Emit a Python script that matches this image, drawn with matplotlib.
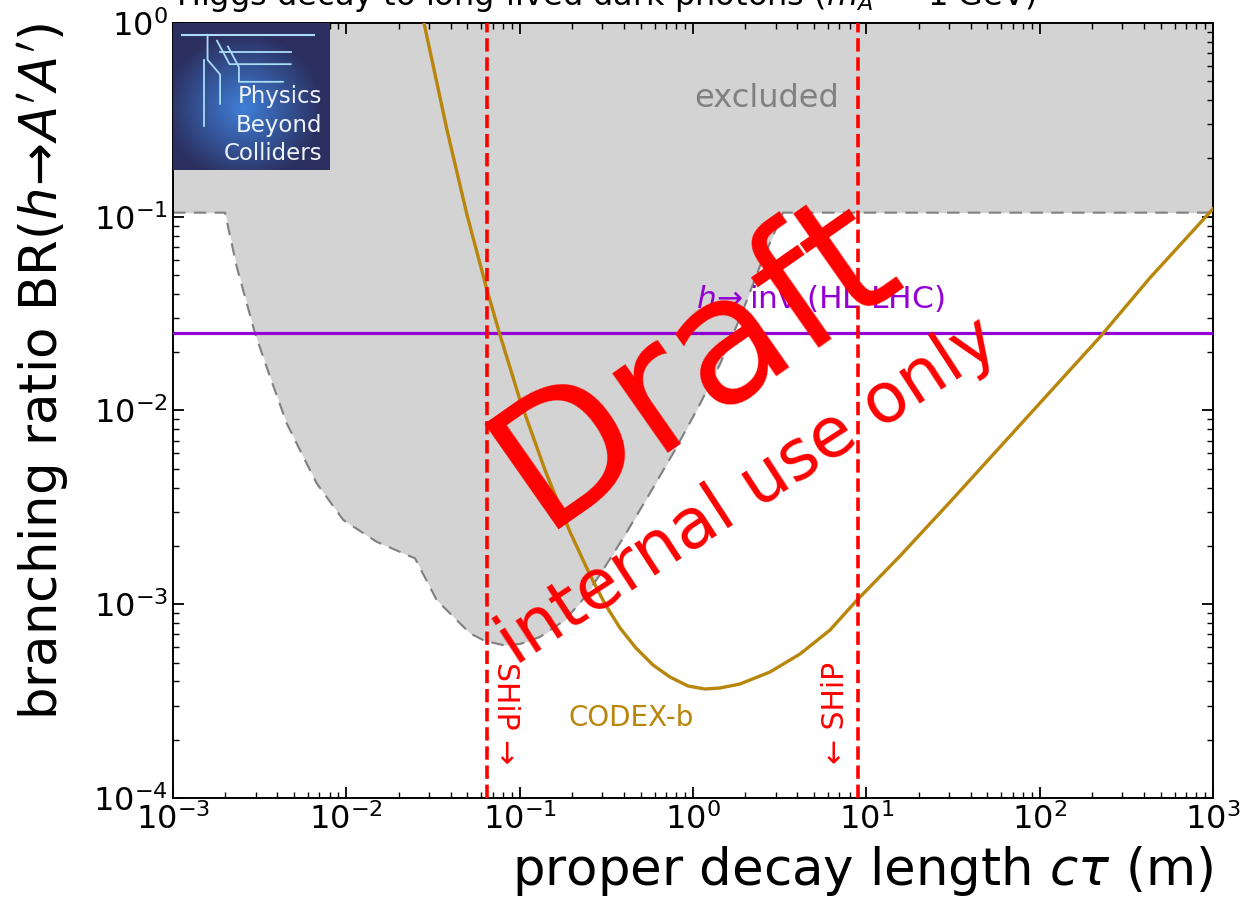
import numpy as np
import matplotlib
matplotlib.use("Agg")
import matplotlib.pyplot as plt

# ---------------- data ----------------
excl_x = [1e-3, 0.001995, 0.002331, 0.002972, 0.003628, 0.004529, 0.005644,
          0.006745, 0.009605, 0.01497, 0.02490, 0.03320, 0.05168, 0.0631,
          0.0801, 0.1004, 0.1310, 0.1826, 0.2381, 0.3026, 0.4052, 0.5648,
          0.7873, 1.097, 1.432, 1.867, 2.435, 3.305, 1e3]
excl_y = [0.105, 0.105, 0.05525, 0.02503, 0.01494, 8.59e-3, 5.77e-3, 4.21e-3,
          2.72e-3, 2.10e-3, 1.726e-3, 1.051e-3, 7.08e-4, 6.46e-4, 6.16e-4,
          6.23e-4, 6.78e-4, 8.29e-4, 1.090e-3, 1.502e-3, 2.277e-3, 3.751e-3,
          6.25e-3, 0.01080, 0.01738, 0.03002, 0.05568, 0.105, 0.105]

codex_x = [0.02806, 0.03809, 0.04970, 0.06479, 0.07700, 0.1004, 0.1400,
           0.1952, 0.2545, 0.3106, 0.3792, 0.4691, 0.5877, 0.7366, 0.9359,
           1.173, 1.432, 1.867, 2.781, 4.143, 6.171, 8.836, 15.64, 30.39,
           59.04, 114.7, 222.9, 433.0, 1000]
codex_y = [1.0, 0.2804, 0.1021, 0.04187, 0.02453, 0.01133, 4.93e-3, 2.36e-3,
           1.416e-3, 1.003e-3, 7.54e-4, 5.94e-4, 4.86e-4, 4.21e-4, 3.785e-4,
           3.652e-4, 3.696e-4, 3.877e-4, 4.47e-4, 5.535e-4, 7.36e-4, 1.051e-3,
           1.774e-3, 3.371e-3, 6.48e-3, 0.01246, 0.02395, 0.0484, 0.1098]

hinv_br = 0.025
ship_ctau = [0.0648, 8.9]

xlim = (1e-3, 1e3)
ylim = (1e-4, 1.0)

# ---------------- figure ----------------
W, H = 1244, 902
fig = plt.figure(figsize=(W / 100, H / 100), dpi=100)
ax = fig.add_axes([173 / W, 1 - 798 / H, (1213 - 173) / W, (798 - 23) / H])
ax.set_xscale("log")
ax.set_yscale("log")
ax.set_xlim(*xlim)
ax.set_ylim(*ylim)

ax.fill_between(excl_x, excl_y, [ylim[1]] * len(excl_x), color="#d3d3d3",
                lw=0, zorder=1)
ax.plot(excl_x, excl_y, color="#808080", lw=1.5, dashes=(6, 4), zorder=2)

ax.axhline(hinv_br, color="#9400D3", lw=2.3, zorder=3)
ax.plot(codex_x, codex_y, color="#B8860B", lw=2.4, zorder=4,
        solid_joinstyle="round")
for xv in ship_ctau:
    ax.axvline(xv, color="red", lw=2.6, ls="--", zorder=5)

# labels
ax.text(0.571, 0.902, "excluded", color="#808080", fontsize=23,
        ha="center", va="center", transform=ax.transAxes)
ax.text(0.622, 0.645, r"$h\!\rightarrow$inv (HL-LHC)", color="#9400D3",
        fontsize=22.5, ha="center", va="center", transform=ax.transAxes)
ax.text(0.441, 0.103, "CODEX-b", color="#B8860B", fontsize=20,
        ha="center", va="center", transform=ax.transAxes)
ax.text(0.3195, 0.11, "SHiP →", color="red", fontsize=21.5, rotation=-90,
        ha="center", va="center", transform=ax.transAxes)
ax.text(0.6375, 0.11, "← SHiP", color="red", fontsize=21.5, rotation=90,
        ha="center", va="center", transform=ax.transAxes)

ax.set_xlabel(r"proper decay length $c\tau$ (m)", fontsize=37, loc="right",
              labelpad=6)
ax.set_ylabel(r"branching ratio BR($h\!\rightarrow\! A'A'$)", fontsize=37,
              loc="top", labelpad=16)

ax.tick_params(which="both", direction="in", top=True, right=True,
               labelsize=23)
ax.tick_params(which="major", length=8, width=1.3)
ax.tick_params(which="minor", length=4, width=1.0)
ax.xaxis.set_major_locator(matplotlib.ticker.LogLocator(base=10, numticks=20))
ax.yaxis.set_major_locator(matplotlib.ticker.LogLocator(base=10, numticks=20))
ax.xaxis.set_minor_locator(matplotlib.ticker.LogLocator(
    base=10, subs=np.arange(2, 10), numticks=20))
ax.yaxis.set_minor_locator(matplotlib.ticker.LogLocator(
    base=10, subs=np.arange(2, 10), numticks=20))
ax.xaxis.set_minor_formatter(matplotlib.ticker.NullFormatter())
ax.yaxis.set_minor_formatter(matplotlib.ticker.NullFormatter())
for s in ax.spines.values():
    s.set_linewidth(1.4)

# title (partly cut off at the top of the figure)
fig.text(176 / W, 1 - 5 / H,
         r"Higgs decay to long-lived dark photons ($m_{A'}$ = 1 GeV)",
         fontsize=23, ha="left", va="baseline")

# logo
lax = fig.add_axes([173 / W, 1 - 170 / H, 157 / W, 147 / H])
gx, gy = np.meshgrid(np.linspace(-1, 1, 80), np.linspace(-1, 1, 80))
rr = np.clip(1 - np.sqrt((gx + 0.1) ** 2 + (gy + 0.15) ** 2), 0, 1)
dark = np.array([0.17, 0.19, 0.38])
light = np.array([0.25, 0.50, 0.85])
img = dark[None, None, :] + (light - dark)[None, None, :] * rr[:, :, None]
lax.imshow(img, extent=(0, 1, 0, 1), aspect="auto", origin="lower")
lc = "#a8dcf7"
lax.plot([0.06, 0.9], [0.92, 0.92], color=lc, lw=1.5)
lax.plot([0.22, 0.22, 0.3, 0.3], [0.92, 0.75, 0.65, 0.45], color=lc, lw=1.3)
lax.plot([0.3, 0.75], [0.8, 0.8], color=lc, lw=1.3)
lax.plot([0.28, 0.36, 0.75], [0.88, 0.72, 0.72], color=lc, lw=1.3)
lax.plot([0.35, 0.42, 0.42, 0.7], [0.84, 0.7, 0.6, 0.6], color=lc, lw=1.3)
lax.plot([0.2, 0.2], [0.75, 0.3], color=lc, lw=1.3)
for i, word in enumerate(["Physics", "Beyond", "Colliders"]):
    lax.text(0.95, 0.5 - i * 0.195, word, color="#eef3fb", fontsize=16.5,
             ha="right", va="center", transform=lax.transAxes)
lax.set_xlim(0, 1)
lax.set_ylim(0, 1)
lax.set_axis_off()

# watermark
fig.text(696 / W, 1 - 362 / H, "Draft", color="red", fontsize=127,
         rotation=35, ha="center", va="center", rotation_mode="anchor")
fig.text(748 / W, 1 - 492 / H, "internal use only", color="red", fontsize=50,
         rotation=33, ha="center", va="center", rotation_mode="anchor")

fig.savefig("out.png", dpi=100)
